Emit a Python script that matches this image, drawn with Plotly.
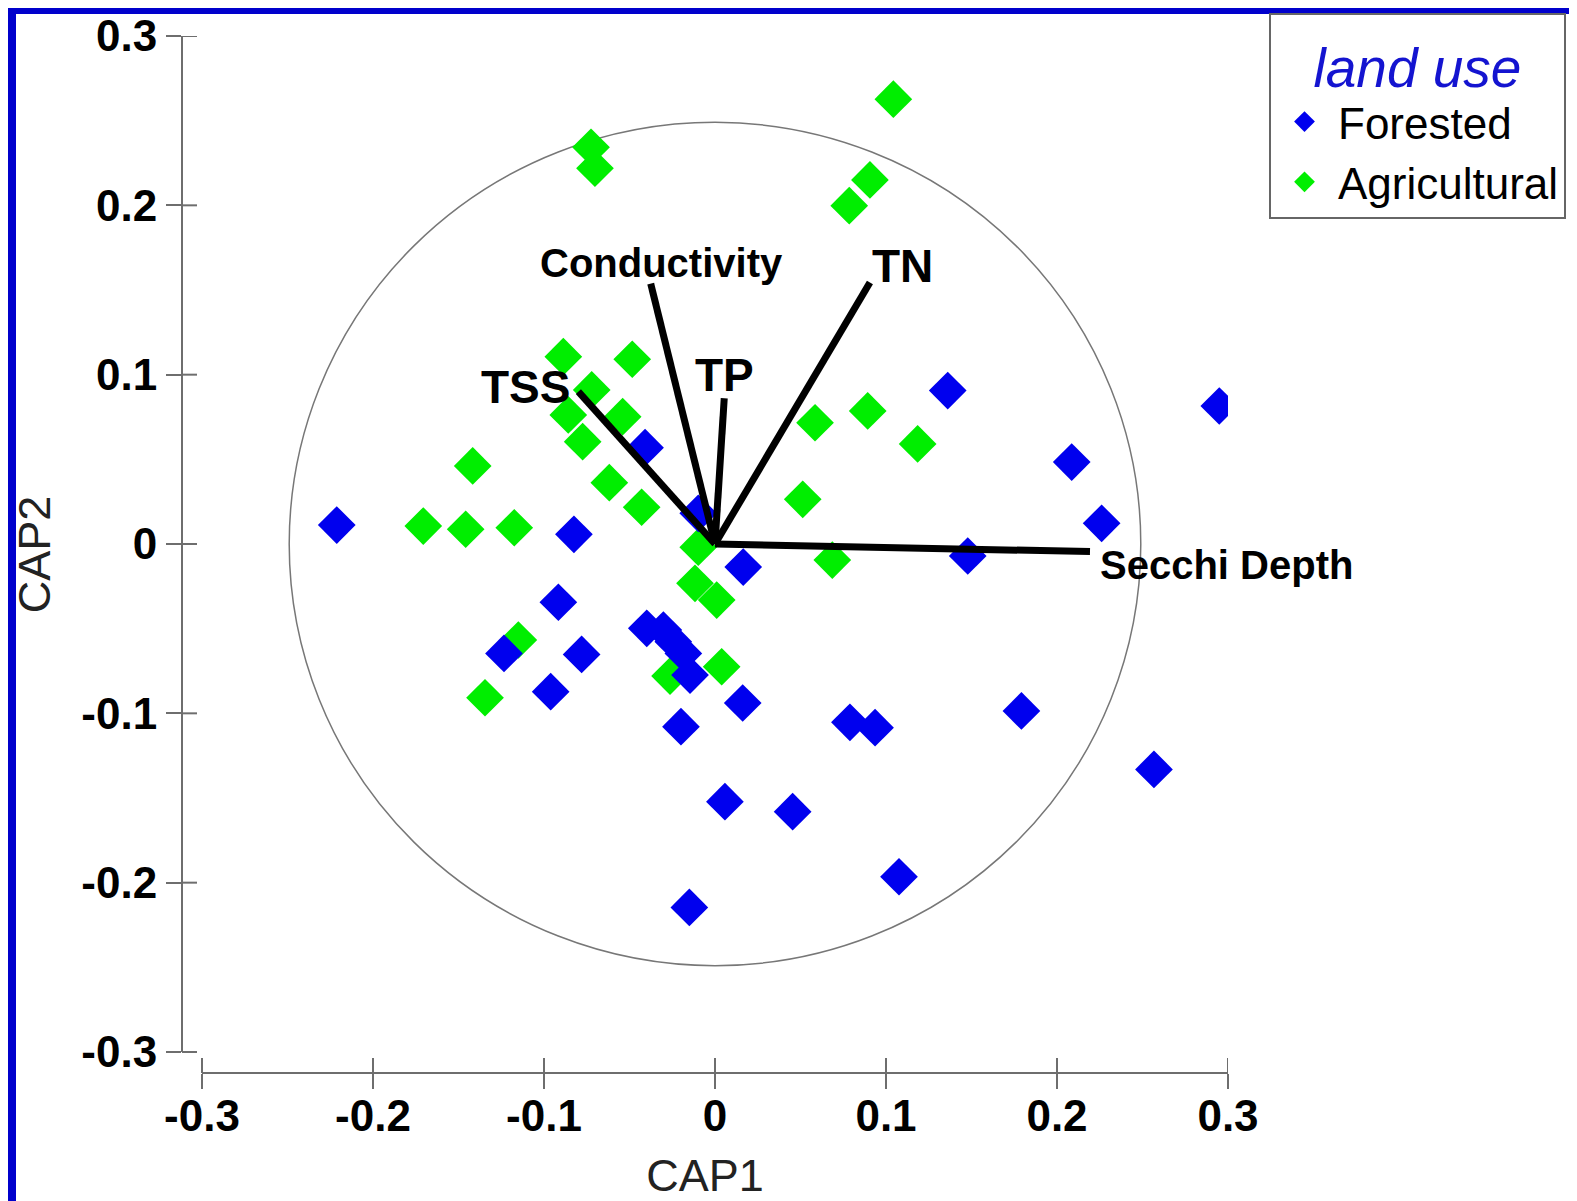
import plotly.graph_objects as go

# ---------------- data ----------------
forested_x = [-0.0409, -0.0098, -0.2212, -0.0825, 0.0165, -0.0916, -0.0399, -0.0302,
              -0.0244, -0.0185, -0.0146, -0.1234, -0.0780, -0.0961, 0.0162, -0.0199,
              0.1361, 0.2086, 0.2261, 0.1478, 0.0789, 0.0936, 0.1792, 0.2567,
              0.0058, 0.0454, -0.0150, 0.1076, 0.2949]
forested_y = [0.0569, 0.0181, 0.0112, 0.0057, -0.0136, -0.0344, -0.0498, -0.0508,
              -0.0577, -0.0646, -0.0774, -0.0646, -0.0652, -0.0872, -0.0939, -0.1079,
              0.0906, 0.0484, 0.0122, -0.0071, -0.1053, -0.1085, -0.0986, -0.1331,
              -0.1522, -0.1581, -0.2146, -0.1965, 0.0815]

agri_x = [-0.0887, -0.0484, -0.0721, -0.0858, -0.0540, -0.0774, -0.1417, -0.0618,
          -0.0429, -0.1706, -0.1458, -0.1174, -0.0098, -0.0117, 0.0010, -0.1150,
          0.0039, -0.0263, -0.1345, 0.0585, 0.0893, 0.1185, 0.0513, 0.0686,
          0.1043, -0.0725, -0.0702, 0.0906, 0.0785]
agri_y = [0.1106, 0.1091, 0.0910, 0.0762, 0.0752, 0.0604, 0.0461, 0.0362,
          0.0217, 0.0106, 0.0087, 0.0096, -0.0019, -0.0232, -0.0331, -0.0567,
          -0.0725, -0.0780, -0.0908, 0.0716, 0.0786, 0.0591, 0.0264, -0.0095,
          0.2627, 0.2343, 0.2219, 0.2150, 0.1998]

vec_names = ["Secchi Depth", "TN", "Conductivity", "TP", "TSS"]
vec_x = [0.2193, 0.0906, -0.0376, 0.0054, -0.0799]
vec_y = [-0.0045, 0.1544, 0.1538, 0.0861, 0.0900]
label_x = [0.2240, 0.1094, -0.0310, 0.0058, -0.1107]
label_y = [-0.0126, 0.1639, 0.1657, 0.0998, 0.0926]
label_size = [40, 46, 40, 46, 46]
label_anchor = ["left", "center", "center", "center", "center"]

circle_r = 0.249
tick_vals = [-0.3, -0.2, -0.1, 0, 0.1, 0.2, 0.3]
tick_text = ["-0.3", "-0.2", "-0.1", "0", "0.1", "0.2", "0.3"]

# ---------------- layout constants ----------------
OFF = 8  # page body margin
W, H = 1577 - OFF, 1201 - OFF
ML, MT = 182 - OFF, 36 - OFF
PW, PH = 1046, 1037
MR, MB = W - ML - PW, H - MT - PH
FONT = "Liberation Sans, Arial, sans-serif"
AXC = "#6e6e6e"


def px_to_paper_x(p):
    return (p - OFF - ML) / PW


def py_to_paper_y(p):
    return (MT + PH - (p - OFF)) / PH


fig = go.Figure()

fig.add_trace(go.Scatter(
    x=agri_x, y=agri_y, mode="markers", name="Agricultural",
    marker=dict(symbol="diamond", size=29, color="#00ee00", line=dict(width=0)),
    legendrank=2))
fig.add_trace(go.Scatter(
    x=forested_x, y=forested_y, mode="markers", name="Forested",
    marker=dict(symbol="diamond", size=29, color="#0000ee", line=dict(width=0)),
    legendrank=1))

# vectors
vx, vy = [], []
for ex, ey in zip(vec_x, vec_y):
    vx += [0, ex, None]
    vy += [0, ey, None]
fig.add_trace(go.Scatter(x=vx, y=vy, mode="lines", showlegend=False,
                         line=dict(color="black", width=7), hoverinfo="skip"))

shapes = []
shapes.append(dict(type="circle", xref="x", yref="y", x0=-circle_r, x1=circle_r,
                   y0=-circle_r, y1=circle_r, line=dict(color="#777777", width=1.5),
                   layer="below"))
shapes.append(dict(type="line", xref="x", yref="y domain", x0=tick_vals[0], x1=tick_vals[-1],
                   y0=0, y1=0, line=dict(color=AXC, width=2)))
shapes.append(dict(type="line", xref="x domain", yref="y", x0=0, x1=0,
                   y0=tick_vals[0], y1=tick_vals[-1], line=dict(color=AXC, width=2)))
for v in tick_vals:
    shapes.append(dict(type="line", xref="x", yref="y domain", x0=v, x1=v,
                       y0=0, y1=15 / PH, line=dict(color=AXC, width=2)))
    shapes.append(dict(type="line", xref="x domain", yref="y", x0=0, x1=15 / PW,
                       y0=v, y1=v, line=dict(color=AXC, width=2)))
# blue frame (top and left)
shapes.append(dict(type="rect", xref="paper", yref="paper",
                   x0=px_to_paper_x(OFF), x1=px_to_paper_x(1577), y0=py_to_paper_y(OFF + 6),
                   y1=py_to_paper_y(OFF), fillcolor="#0000cc", line=dict(width=0)))
shapes.append(dict(type="rect", xref="paper", yref="paper",
                   x0=px_to_paper_x(OFF), x1=px_to_paper_x(OFF + 8), y0=py_to_paper_y(1201),
                   y1=py_to_paper_y(OFF), fillcolor="#0000cc", line=dict(width=0)))

annotations = []
for n, lx, ly, s, a in zip(vec_names, label_x, label_y, label_size, label_anchor):
    annotations.append(dict(x=lx, y=ly, xref="x", yref="y", text=n, showarrow=False,
                            xanchor=a, yanchor="middle",
                            font=dict(family=FONT, size=s, color="black", weight="bold")))

axis_common = dict(
    tickvals=tick_vals, ticktext=tick_text, ticks="outside", ticklen=15, tickwidth=2,
    tickcolor=AXC, showline=False, showgrid=False, zeroline=False,
    tickfont=dict(family=FONT, size=44, color="black", weight="bold"),
)

fig.update_layout(
    width=W, height=H,
    margin=dict(l=ML, r=MR, t=MT, b=MB, autoexpand=False),
    paper_bgcolor="white", plot_bgcolor="white",
    xaxis=dict(range=[-0.3 - 20 / 1710, 0.3], **axis_common, ticklabelstandoff=-11,
               title=dict(text="CAP1", standoff=20,
                          font=dict(family=FONT, size=45, color="#222222"))),
    yaxis=dict(range=[-0.3 - 21 / 1693, 0.3], **axis_common,
               title=dict(text="CAP2", standoff=16,
                          font=dict(family=FONT, size=45, color="#222222"))),
    shapes=shapes,
    annotations=annotations,
    showlegend=True,
    legend=dict(
        x=px_to_paper_x(1566), xanchor="right", y=py_to_paper_y(13), yanchor="top",
        bordercolor="#666666", borderwidth=2, bgcolor="white",
        font=dict(family=FONT, size=44, color="black"),
        title=dict(text="land use", side="top center",
                   font=dict(family=FONT, size=55, color="#1414d0", style="italic")),
        itemsizing="trace", traceorder="normal", itemwidth=57,
    ),
)

fig.write_html("out.html")
